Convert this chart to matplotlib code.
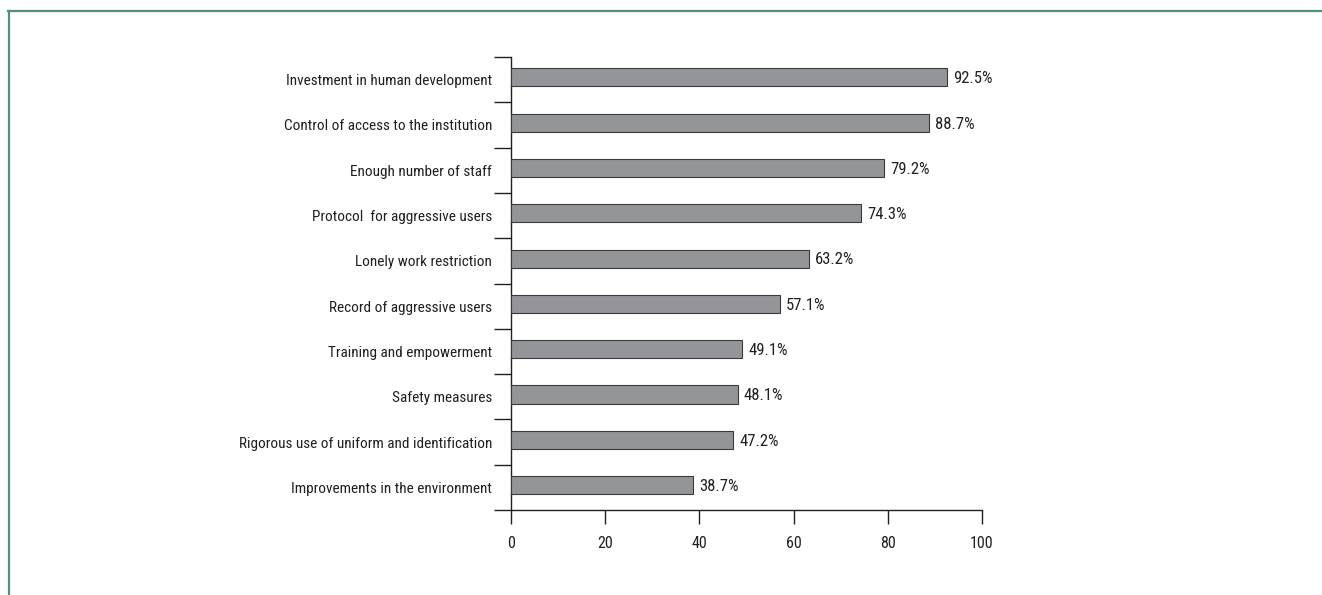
import matplotlib
matplotlib.use("Agg")
import matplotlib.pyplot as plt
from matplotlib.lines import Line2D
import numpy as np

categories = [
    "Investment in human development",
    "Control of access to the institution",
    "Enough number of staff",
    "Protocol  for aggressive users",
    "Lonely work restriction",
    "Record of aggressive users",
    "Training and empowerment",
    "Safety measures",
    "Rigorous use of uniform and identification",
    "Improvements in the environment",
]
values = [92.5, 88.7, 79.2, 74.3, 63.2, 57.1, 49.1, 48.1, 47.2, 38.7]
xticks = [0, 20, 40, 60, 80, 100]

plt.rcParams['font.family'] = ['Roboto Condensed', 'Fira Sans Condensed', 'DejaVu Sans']
fs = 11

fig = plt.figure(figsize=(13.22, 5.95), dpi=100)
ax = fig.add_axes([511/1322, 1 - 510/595, (982-511)/1322, (510-57)/595])

y = np.arange(len(categories))
ax.barh(y - 0.05, values, height=0.4, color="#939598", edgecolor="#3a3a3a", linewidth=0.8, zorder=3)
for yi, v in zip(y, values):
    ax.text(v + 1.3, yi - 0.02, f"{v:.1f}%", va="center", ha="left", fontsize=12, color="#231f20")

ax.set_ylim(len(categories) - 0.5, -0.5)
ax.set_xlim(0, 100)
ax.set_yticks(y)
ax.set_yticklabels(categories, fontsize=fs, color="#231f20")
ax.set_yticks(np.arange(len(categories) + 1) - 0.5, minor=True)
ax.tick_params(axis='y', which='major', length=0, pad=13.5)
ax.tick_params(axis='y', which='minor', length=12, width=1, color="#231f20")
ax.set_xticks(xticks)
ax.set_xticklabels([str(t) for t in xticks], fontsize=11.5, color="#231f20")
ax.tick_params(axis='x', length=10, width=1, color="#231f20", pad=9)

for s in ["top", "right"]:
    ax.spines[s].set_visible(False)
for s in ["left", "bottom"]:
    ax.spines[s].set_color("#231f20")
    ax.spines[s].set_linewidth(1)

border = "#4f9080"
fig.add_artist(Line2D([8/1322, 1], [1 - 11/595, 1 - 11/595], color=border, lw=1.6, transform=fig.transFigure))
fig.add_artist(Line2D([9/1322, 9/1322], [1 - 11/595, 0], color=border, lw=1.6, transform=fig.transFigure))

fig.savefig("out.png", dpi=100, facecolor="white")
